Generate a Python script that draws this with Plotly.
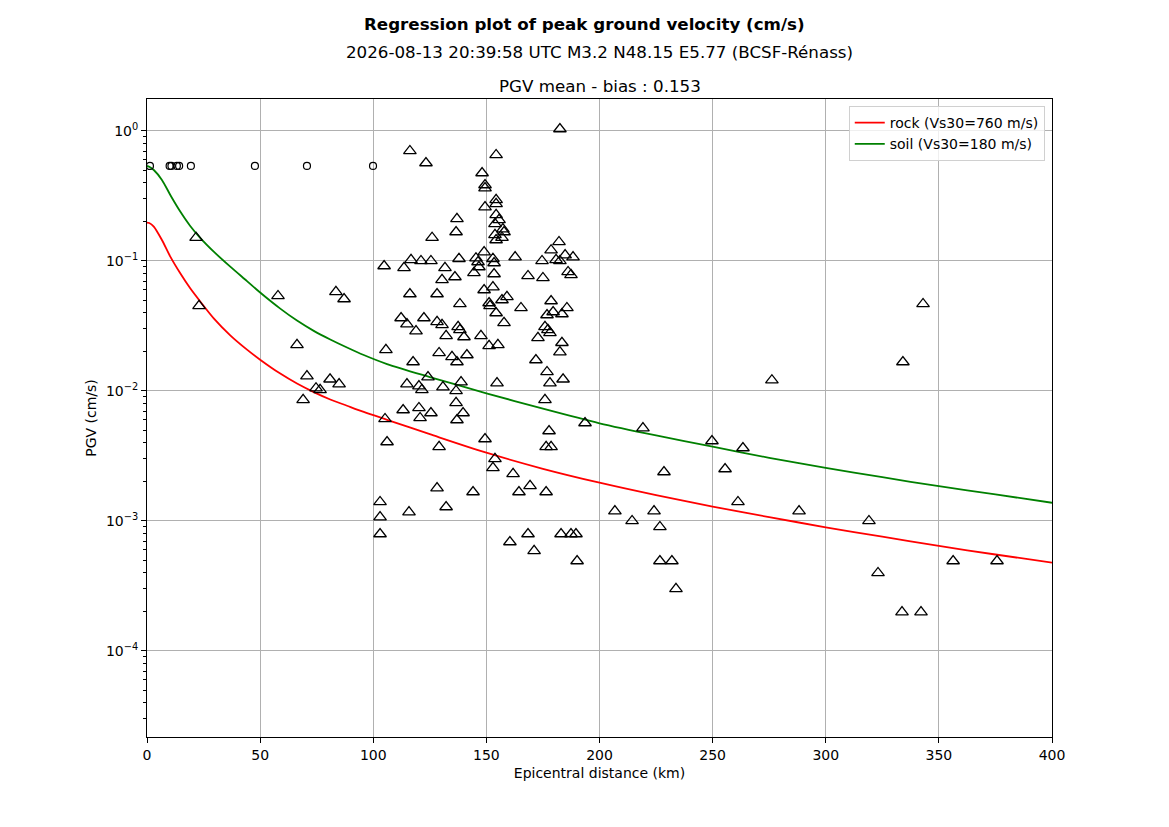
import plotly.graph_objects as go

# Stations (triangles): epicentral distance (km) and observed PGV (cm/s)
tri_dist = [21.7, 23.0, 57.9, 66.3, 70.7, 69.0, 74.7, 76.5, 80.9, 84.9, 83.5, 87.1,
            104.8, 113.6, 116.7, 121.1, 125.5, 126.0, 116.2, 128.2, 112.3, 114.9, 118.9, 122.4, 128.2,
            105.6, 117.6, 124.2, 114.9, 120.2, 121.5, 129.1, 113.2, 120.2, 120.7, 125.5, 105.2,
            116.2, 123.3, 182.5, 154.3, 148.1, 149.4, 149.4, 149.4, 154.3, 154.3, 154.3, 153.8, 155.6,
            157.3, 157.8, 153.8, 156.9, 154.3,
            137.0, 136.6, 182.1, 178.6, 184.8, 188.3, 180.8, 182.5, 174.6, 162.7, 149.0, 145.4, 137.9,
            152.9, 153.4, 153.4, 146.3, 146.7, 144.5, 131.7, 130.4, 136.1, 168.4, 175.0, 186.1, 187.4,
            149.0, 152.9, 138.3, 151.2, 151.6, 156.9, 159.1, 154.3, 165.3, 157.8, 178.6, 176.8, 179.5,
            183.4, 185.6,
            130.4, 132.2, 137.5, 138.3, 140.1, 147.6, 151.2, 155.1, 175.9, 177.2, 178.1, 172.8, 183.4,
            182.5, 171.9, 176.8, 178.1, 183.9, 175.9,
            134.8, 137.0, 141.4, 130.8, 136.6, 138.8, 154.7, 136.6, 139.7, 137.0,
            106.1, 129.1, 149.4, 177.7, 176.4, 178.6, 193.6, 153.8, 152.9, 161.8, 164.4, 169.3, 176.4,
            128.2, 144.1, 132.2, 115.8, 103.0, 103.0, 103.0, 160.4, 168.4, 171.1, 183.0, 187.4, 189.6,
            190.1,
            343.0, 334.1, 276.2, 219.2, 249.7, 263.4, 228.5, 255.5, 261.2, 288.2, 206.8, 224.1, 214.4,
            226.7, 319.1, 226.7, 232.0, 233.8, 323.1, 356.3, 375.7, 333.7, 342.1]
tri_pgv = [0.151, 0.0451, 0.0538, 0.0226, 0.0130, 0.00854, 0.0105, 0.0102, 0.0123, 0.0113, 0.0578, 0.0510,
           0.0915, 0.0884, 0.102, 0.100, 0.100, 0.151, 0.0557, 0.0557, 0.0364, 0.0327, 0.0289, 0.0364, 0.0340,
           0.0207, 0.0167, 0.0128, 0.0113, 0.0109, 0.0102, 0.0196, 0.00714, 0.00740, 0.00620, 0.00677, 0.00609,
           0.702, 0.567, 1.036, 0.654, 0.475, 0.384, 0.364, 0.260, 0.295, 0.275, 0.226, 0.193, 0.207,
           0.176, 0.167, 0.159, 0.151, 0.145,
           0.211, 0.167, 0.140, 0.121, 0.111, 0.107, 0.102, 0.100, 0.100, 0.107, 0.117, 0.105, 0.104,
           0.104, 0.0965, 0.0794, 0.0982, 0.0899, 0.0809, 0.0884, 0.0715, 0.0753, 0.0767, 0.0740, 0.0823, 0.0781,
           0.0598, 0.0630, 0.0467, 0.0475, 0.0451, 0.0501, 0.0529, 0.0398, 0.0435, 0.0334, 0.0492, 0.0384, 0.0405,
           0.0391, 0.0435,
           0.0322, 0.0265, 0.0311, 0.0295, 0.0260, 0.0265, 0.0222, 0.0226, 0.0311, 0.0295, 0.0280, 0.0256, 0.0235,
           0.0199, 0.0173, 0.0140, 0.0115, 0.0123, 0.00854,
           0.0183, 0.0167, 0.0189, 0.0107, 0.0100, 0.0117, 0.0115, 0.00809, 0.00677, 0.00598,
           0.00405, 0.00371, 0.00427, 0.00492, 0.00371, 0.00371, 0.00567, 0.00300, 0.00256, 0.00230, 0.00167,
           0.00186, 0.00167, 0.00179, 0.00167, 0.00128, 0.00117, 0.00140, 0.00107, 0.000794, 0.000689, 0.000794,
           0.000588, 0.000794, 0.000794, 0.000794, 0.000492,
           0.0467, 0.0167, 0.0121, 0.00518, 0.00412, 0.00364, 0.00238, 0.00251, 0.00140, 0.00119, 0.00119,
           0.00119, 0.00100, 0.000899, 0.00100, 0.000492, 0.000492, 0.000300, 0.000398, 0.000492, 0.000492,
           0.000199, 0.000199]

# Intensity-derived points (circles)
circ_dist = [1.3, 10.0, 10.8, 13.2, 14.2, 19.4, 47.7, 70.7, 99.9]
circ_pgv = [0.538, 0.538, 0.538, 0.538, 0.538, 0.538, 0.538, 0.538, 0.538]

# Prediction curves
curve_dist = [0, 1, 3, 6.6, 10.3, 14.7, 19.1, 23.6, 29.5, 36.8, 44.2, 50, 58.9, 66.3, 73.7, 81,
              88.4, 95.8, 106.1, 125, 150, 175, 200, 225, 250, 275, 300, 325, 350, 375, 400]
rock_pgv = [0.197, 0.196, 0.184, 0.145, 0.108, 0.0804, 0.0616, 0.0486, 0.0362, 0.0268, 0.0208,
            0.0174, 0.0136, 0.0114, 0.0098, 0.0086, 0.0077, 0.0069, 0.0060, 0.00465, 0.00335,
            0.00252, 0.00197, 0.00158, 0.00129, 0.00107, 0.000894, 0.000757, 0.000642, 0.000552,
            0.000478]
soil_pgv = [0.538, 0.530, 0.501, 0.420, 0.322, 0.240, 0.186, 0.150, 0.118, 0.0904, 0.0700,
            0.0572, 0.0430, 0.0348, 0.0290, 0.0249, 0.0216, 0.0189, 0.0161, 0.0128, 0.0096,
            0.0073, 0.00564, 0.00455, 0.00373, 0.00306, 0.00256, 0.00217, 0.00185, 0.00160,
            0.00138]

FONT = "DejaVu Sans"

fig = go.Figure()
fig.add_trace(go.Scatter(x=curve_dist, y=rock_pgv, mode="lines", name="rock (Vs30=760 m/s)",
                         line=dict(color="red", width=1.8, shape="spline", smoothing=0.8)))
fig.add_trace(go.Scatter(x=curve_dist, y=soil_pgv, mode="lines", name="soil (Vs30=180 m/s)",
                         line=dict(color="green", width=1.8, shape="spline", smoothing=0.8)))
fig.add_trace(go.Scatter(x=tri_dist, y=tri_pgv, mode="markers", showlegend=False,
                         marker=dict(symbol="triangle-up-open", size=11, color="black",
                                     line=dict(width=1.3, color="black"))))
fig.add_trace(go.Scatter(x=circ_dist, y=circ_pgv, mode="markers", showlegend=False,
                         marker=dict(symbol="circle-open", size=7, color="black",
                                     line=dict(width=1.2, color="black"))))

major = [-4, -3, -2, -1, 0]
minor_vals = [m * 10 ** e for e in range(-5, 1) for m in range(2, 10)]

# page body adds an 8px margin, so the figure is a bit smaller than the window
fig.update_layout(
    width=1161, height=819,
    paper_bgcolor="white", plot_bgcolor="white",
    margin=dict(l=139, r=117, t=91, b=90),
    font=dict(family=FONT, size=14, color="black"),
    legend=dict(x=0.992, y=0.989, xanchor="right", yanchor="top",
                bgcolor="rgba(255,255,255,0.8)", bordercolor="#d0d0d0", borderwidth=1,
                font=dict(size=14), tracegroupgap=0, itemwidth=30),
    xaxis=dict(range=[0, 400], tickvals=[0, 50, 100, 150, 200, 250, 300, 350, 400],
               showgrid=True, gridcolor="#b0b0b0", gridwidth=1, zeroline=False,
               showline=True, linecolor="black", linewidth=1, mirror=True,
               ticks="outside", ticklen=5, tickcolor="black",
               title=dict(text="Epicentral distance (km)", font=dict(size=14), standoff=6)),
    yaxis=dict(type="log", range=[-4.662, 0.246],
               tickvals=[10 ** e for e in major],
               ticktext=["10<sup>%s</sup>" % (str(e).replace("-", "\u2212")) for e in major],
               showgrid=True, gridcolor="#b0b0b0", gridwidth=1, zeroline=False,
               showline=True, linecolor="black", linewidth=1, mirror=True,
               ticks="outside", ticklen=5, tickcolor="black",
               minor=dict(tickvals=minor_vals, ticks="outside", ticklen=3, tickcolor="black",
                          showgrid=False),
               title=dict(text="PGV (cm/s)", font=dict(size=14), standoff=6)),
)

fig.add_annotation(text="<b>Regression plot of peak ground velocity (cm/s)</b>",
                   xref="paper", yref="paper", x=0.4834, y=1.1176, xanchor="center",
                   yanchor="middle", showarrow=False, font=dict(size=16.7))
fig.add_annotation(text="2026-08-13 20:39:58 UTC M3.2 N48.15 E5.77 (BCSF-Rénass)",
                   xref="paper", yref="paper", x=0.5, y=1.0737, xanchor="center",
                   yanchor="middle", showarrow=False, font=dict(size=16.7))
fig.add_annotation(text="PGV mean - bias : 0.153",
                   xref="paper", yref="paper", x=0.5, y=1.0204, xanchor="center",
                   yanchor="middle", showarrow=False, font=dict(size=16.7))

fig.write_html("out.html")
